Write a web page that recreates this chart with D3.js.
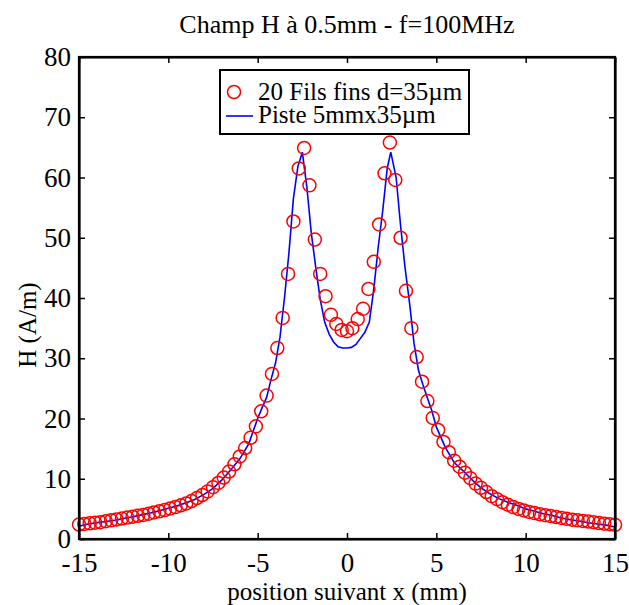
<!DOCTYPE html>
<html><head><meta charset="utf-8">
<script src="https://cdn.jsdelivr.net/npm/d3@7"></script>
<style>body{margin:0;background:#fff}svg{display:block}text{font-family:"Liberation Serif","Times New Roman",serif;fill:#000}</style>
</head><body><svg id="c" width="629" height="605"></svg>
<script>
const title = "Champ H à 0.5mm - f=100MHz";
const xLabel = "position suivant x (mm)";
const yLabel = "H (A/m)";
const xTicks = [-15, -10, -5, 0, 5, 10, 15];
const yTicks = [0, 10, 20, 30, 40, 50, 60, 70, 80];
const legendLabels = ["20 Fils fins d=35\u00b5m", "Piste 5mmx35\u00b5m"];

// Red circles: 20 thin wires, x from -15 to 15 mm (step 0.3)
const wireX = [-15.0,-14.7,-14.4,-14.1,-13.8,-13.5,-13.2,-12.9,-12.6,-12.3,-12.0,-11.7,-11.4,-11.1,-10.8,-10.5,-10.2,-9.9,-9.6,-9.3,-9.0,-8.7,-8.4,-8.1,-7.8,-7.5,-7.2,-6.9,-6.6,-6.3,-6.0,-5.7,-5.4,-5.1,-4.8,-4.5,-4.2,-3.9,-3.6,-3.3,-3.0,-2.7,-2.4,-2.1,-1.8,-1.5,-1.2,-0.9,-0.6,-0.3,0.0,
 0.3,0.6,0.9,1.2,1.5,1.8,2.1,2.4,2.7,3.0,3.3,3.6,3.9,4.2,4.5,4.8,5.1,5.4,5.7,6.0,6.3,6.6,6.9,7.2,7.5,7.8,8.1,8.4,8.7,9.0,9.3,9.6,9.9,10.2,10.5,10.8,11.1,11.4,11.7,12.0,12.3,12.6,12.9,13.2,13.5,13.8,14.1,14.4,14.7,15.0];
const wireH = [2.4,2.5,2.6,2.7,2.8,2.95,3.1,3.25,3.4,3.55,3.7,3.85,4.0,4.2,4.4,4.6,4.8,5.05,5.3,5.6,5.9,6.3,6.8,7.3,7.9,8.6,9.3,10.2,11.2,12.4,13.7,15.1,16.8,18.7,21.2,23.8,27.4,31.7,36.7,44.0,52.7,61.5,64.9,58.7,49.7,44.0,40.3,37.2,35.7,34.7,34.5,
 35.0,36.5,38.2,41.5,46.0,52.2,60.7,65.8,59.6,50.0,41.2,35.0,30.2,26.1,22.9,20.1,18.1,16.1,14.4,13.0,12.0,11.0,10.1,9.2,8.5,7.8,7.1,6.6,6.1,5.7,5.3,5.0,4.75,4.5,4.3,4.1,3.95,3.8,3.65,3.5,3.35,3.2,3.1,3.0,2.9,2.8,2.65,2.55,2.45,2.35];

// Blue line: 5mm x 35um track
const trackX = [-15.0,-14.5,-14.0,-13.5,-13.0,-12.5,-12.0,-11.5,-11.0,-10.5,-10.0,-9.5,-9.0,-8.5,-8.0,-7.5,-7.0,-6.5,-6.0,-5.5,-5.0,-4.75,-4.5,-4.25,-4.0,-3.75,-3.5,-3.25,-3.0,-2.75,-2.5,-2.25,-2.0,-1.75,-1.5,-1.25,-1.0,-0.75,-0.5,-0.25,0.0,
 0.25,0.5,0.75,1.0,1.25,1.5,1.75,2.0,2.25,2.45,2.75,3.0,3.25,3.5,3.75,4.0,4.25,4.5,4.75,5.0,5.5,6.0,6.5,7.0,7.5,8.0,8.5,9.0,9.5,10.0,10.5,11.0,11.5,12.0,12.5,13.0,13.5,14.0,14.5,15.0];
const trackH = [2.1,2.5,2.7,2.9,3.1,3.4,3.7,4.0,4.3,4.7,5.1,5.5,6.0,6.6,7.4,8.4,9.8,11.5,13.3,15.8,20.0,21.8,23.5,26.5,29.2,33.5,40.0,47.5,56.5,61.8,64.2,58.5,50.8,45.1,39.8,36.0,34.0,32.7,31.9,31.7,31.7,
 31.8,32.3,33.3,34.3,36.0,41.5,48.5,54.5,61.5,64.2,60.0,52.0,45.0,39.2,32.5,28.0,25.6,23.4,21.3,18.6,15.2,12.7,11.3,9.8,8.5,7.5,6.7,6.1,5.6,5.0,4.6,4.2,3.9,3.5,3.2,3.0,2.7,2.5,2.3,2.0];

const svg = d3.select("#c");
const L = 79, R = 615, T = 57, B = 539;
const x = d3.scaleLinear().domain([-15, 15]).range([L, R]);
const y = d3.scaleLinear().domain([0, 80]).range([B, T]);

// title
svg.append("text").attr("x", (L + R) / 2).attr("y", 33).attr("text-anchor", "middle")
  .style("font-size", "26px").text(title);

// data: line
svg.append("path").datum(d3.zip(trackX, trackH))
  .attr("fill", "none").attr("stroke", "#0000ff").attr("stroke-width", 1.6)
  .attr("d", d3.line().x(d => x(d[0])).y(d => y(d[1])));

// data: circles
svg.append("g").selectAll("circle").data(d3.zip(wireX, wireH)).join("circle")
  .attr("cx", d => x(d[0])).attr("cy", d => y(d[1])).attr("r", 6.5)
  .attr("fill", "none").attr("stroke", "#ff0000").attr("stroke-width", 1.5);

// axes
const tl = 6;
const fmt = d => String(d);
const gB = svg.append("g").attr("transform", `translate(0,${B})`)
  .call(d3.axisBottom(x).tickValues(xTicks).tickSizeInner(-tl).tickSizeOuter(0).tickPadding(14).tickFormat(fmt));
const gT = svg.append("g").attr("transform", `translate(0,${T})`)
  .call(d3.axisTop(x).tickValues(xTicks).tickSizeInner(-tl).tickSizeOuter(0).tickFormat(""));
const gL = svg.append("g").attr("transform", `translate(${L},0)`)
  .call(d3.axisLeft(y).tickValues(yTicks).tickSizeInner(-tl).tickSizeOuter(0).tickPadding(8).tickFormat(fmt));
const gR = svg.append("g").attr("transform", `translate(${R},0)`)
  .call(d3.axisRight(y).tickValues(yTicks).tickSizeInner(-tl).tickSizeOuter(0).tickFormat(""));
[gB, gT, gL, gR].forEach(g => {
  g.select(".domain").attr("stroke", "#000").attr("stroke-width", 2.2);
  g.selectAll(".tick line").attr("stroke", "#000").attr("stroke-width", 1.5);
  g.selectAll("text").style("font-family", '"Liberation Serif", serif').style("font-size", "27px").attr("fill", "#000");
});
gB.selectAll(".tick text").attr("dy", "0.71em");
svg.append("rect").attr("x", L).attr("y", T).attr("width", R - L).attr("height", B - T)
  .attr("fill", "none").attr("stroke", "#000").attr("stroke-width", 2.2);

// axis labels
svg.append("text").attr("x", (L + R) / 2).attr("y", 600).attr("text-anchor", "middle")
  .style("font-size", "25px").text(xLabel);
svg.append("text").attr("transform", `translate(36,${(T + B) / 2 + 27}) rotate(-90)`).attr("text-anchor", "middle")
  .style("font-size", "25px").text(yLabel);

// legend
const lg = svg.append("g");
lg.append("rect").attr("x", 220).attr("y", 70).attr("width", 249).attr("height", 64)
  .attr("fill", "#fff").attr("stroke", "#000").attr("stroke-width", 2);
lg.append("circle").attr("cx", 234).attr("cy", 92).attr("r", 6.5)
  .attr("fill", "none").attr("stroke", "#ff0000").attr("stroke-width", 1.5);
lg.append("line").attr("x1", 226).attr("x2", 253).attr("y1", 116).attr("y2", 116)
  .attr("stroke", "#0000ff").attr("stroke-width", 1.6);
lg.append("text").attr("x", 258).attr("y", 100).style("font-size", "25px").text(legendLabels[0]);
lg.append("text").attr("x", 258).attr("y", 123).style("font-size", "25px").text(legendLabels[1]);
</script></body></html>
